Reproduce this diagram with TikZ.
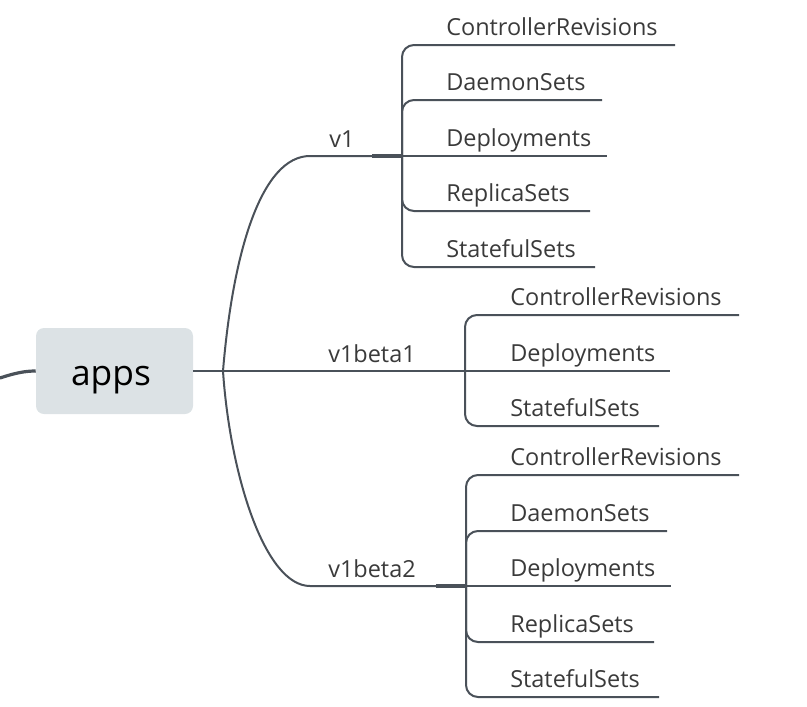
\documentclass[tikz,border=0pt]{standalone}
\usepackage{fontspec}
\setmainfont{Open Sans}
\definecolor{linec}{HTML}{4A5159}
\definecolor{txtc}{HTML}{3A3A3A}
\definecolor{boxc}{HTML}{DCE2E5}
\begin{document}
\begin{tikzpicture}[x=0.75pt,y=-0.75pt,
  edge/.style={draw=linec, line width=1.5pt},
  joint/.style={draw=linec, line width=2.3pt},
  child/.style={draw=linec, line width=1.5pt, rounded corners=9pt},
  lbl/.style={anchor=base west, inner sep=0pt, text=txtc, font=\fontsize{17.6}{20}\selectfont},
  rootbox/.style={fill=boxc, rounded corners=6pt, minimum width=117.75pt, minimum height=64.5pt, inner sep=0pt},
  roottext/.style={anchor=base, inner sep=0pt, text=black, font=\fontsize{26.5}{30}\selectfont}]
\useasboundingbox (0,0) rectangle (807,707);

% root
\node[rootbox] (apps) at (114.5,371) {};
\node[roottext] (appst) at (111,385) {apps};
\coordinate (in) at (0,378);
\draw[draw=linec, line width=2.4pt] (in) .. controls (15,373) and (25,371) .. (apps.west);

% split
\coordinate (split) at (223,371);
\draw[edge] (apps.east) -- (split);

% v1
\coordinate (v1s) at (310,156);
\coordinate (v1j) at (402,156);
\node[lbl] (v1) at (329,147) {v1};
\draw[edge] (split) .. controls (233,250) and (262,156) .. (v1s) -- (v1j);
\draw[joint] (372,156) -- (v1j);

% v1beta1
\coordinate (b1j) at (465,371);
\node[lbl] (b1) at (328,362) {v1beta1};
\draw[edge] (split) -- (b1j);

% v1beta2
\coordinate (b2s) at (310,586);
\coordinate (b2j) at (466,586);
\node[lbl] (b2) at (328,577) {v1beta2};
\draw[edge] (split) .. controls (230,475) and (265,586) .. (b2s) -- (b2j);
\draw[joint] (436,586) -- (b2j);

% v1 children
\coordinate (a1) at (675,45);
\coordinate (a2) at (602,100);
\coordinate (a3) at (607,156);
\coordinate (a4) at (590,211);
\coordinate (a5) at (595,267);
\node[lbl] (a1t) at (446,35) {ControllerRevisions};
\node[lbl] (a2t) at (446,90) {DaemonSets};
\node[lbl] (a3t) at (446,146) {Deployments};
\node[lbl] (a4t) at (446,201) {ReplicaSets};
\node[lbl] (a5t) at (446,257) {StatefulSets};
\draw[child] (v1j) |- (a1);
\draw[child] (v1j) |- (a2);
\draw[edge] (v1j) -- (a3);
\draw[child] (v1j) |- (a4);
\draw[child] (v1j) |- (a5);

% v1beta1 children
\coordinate (c1) at (739,315);
\coordinate (c2) at (670,371);
\coordinate (c3) at (659,426);
\node[lbl] (c1t) at (510,305) {ControllerRevisions};
\node[lbl] (c2t) at (510,361) {Deployments};
\node[lbl] (c3t) at (510,416) {StatefulSets};
\draw[child] (b1j) |- (c1);
\draw[edge] (b1j) -- (c2);
\draw[child] (b1j) |- (c3);

% v1beta2 children
\coordinate (d1) at (739,475);
\coordinate (d2) at (667,531);
\coordinate (d3) at (671,586);
\coordinate (d4) at (654,642);
\coordinate (d5) at (659,697);
\node[lbl] (d1t) at (510,465) {ControllerRevisions};
\node[lbl] (d2t) at (510,521) {DaemonSets};
\node[lbl] (d3t) at (510,576) {Deployments};
\node[lbl] (d4t) at (510,632) {ReplicaSets};
\node[lbl] (d5t) at (510,687) {StatefulSets};
\draw[child] (b2j) |- (d1);
\draw[child] (b2j) |- (d2);
\draw[edge] (b2j) -- (d3);
\draw[child] (b2j) |- (d4);
\draw[child] (b2j) |- (d5);
\end{tikzpicture}
\end{document}
